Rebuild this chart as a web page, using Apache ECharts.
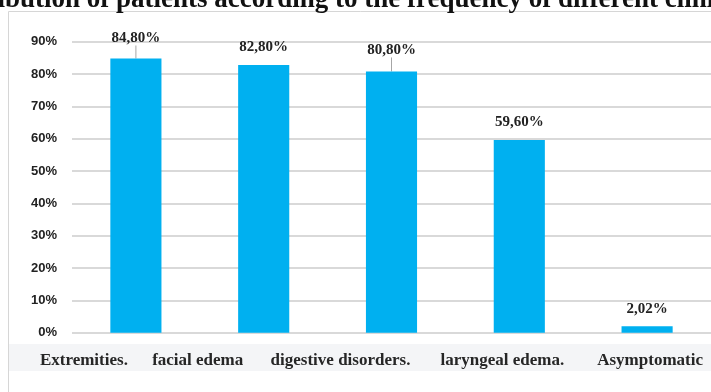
<!DOCTYPE html>
<html>
<head>
<meta charset="utf-8">
<script src="https://cdn.jsdelivr.net/npm/echarts@6/dist/echarts.min.js"></script>
<style>
  html, body { margin: 0; padding: 0; background: #ffffff; }
  #chart { width: 711px; height: 392px; }
</style>
</head>
<body>
<div id="chart"></div>
<script>
// Clinical signs and share of patients presenting each one (%)
const categories = ['Extremities.', 'facial edema', 'digestive disorders.', 'laryngeal edema.', 'Asymptomatic'];
const patientShare = [84.8, 82.8, 80.8, 59.6, 2.02];
const yTicks = { min: 0, max: 90, step: 10 };

// Value labels lifted a little above their bars, joined back by a leader line
const labelLift = [-3, 0, -4, 0, 0];
// Horizontal nudge (px) of each category name under the axis
const categoryNudge = [-52, -66, -51, -17, 3];

const chart = echarts.init(document.getElementById('chart'), null, { renderer: 'canvas' });

const serif = '"Liberation Serif", "Times New Roman", serif';
const sans = '"Liberation Sans", Arial, sans-serif';

const catFont = { fontFamily: serif, fontWeight: 'bold', fontSize: 17, color: '#262626' };
const catRich = {};
categoryNudge.forEach((d, i) => {
  catRich['c' + i] = Object.assign({}, catFont, {
    padding: d < 0 ? [0, -2 * d, 0, 0] : [0, 0, 0, 2 * d]
  });
});

chart.setOption({
  animation: false,
  backgroundColor: '#ffffff',
  title: {
    text: 'Distribution of patients according to the frequency of different clinical signs',
    left: -66,
    top: -18,
    textStyle: { fontFamily: serif, fontWeight: 'bold', fontSize: 27, color: '#111111' }
  },
  graphic: [
    {
      type: 'rect', z: -10, silent: true,
      shape: { x: 8.5, y: 11.5, width: 720, height: 400 },
      style: { fill: '#ffffff', stroke: '#d6d6d6', lineWidth: 1 }
    },
    {
      type: 'rect', z: -9, silent: true,
      shape: { x: 9, y: 344, width: 710, height: 27 },
      style: { fill: '#f4f5f7' }
    }
  ],
  grid: { left: 72, right: -3, top: 41.7, bottom: 59.3, containLabel: false },
  xAxis: {
    type: 'category',
    data: categories,
    axisLine: { show: false },
    axisTick: { show: false },
    axisLabel: Object.assign({
      margin: 19,
      interval: 0,
      formatter: (v, i) => '{c' + i + '|' + v + '}',
      rich: catRich
    }, catFont)
  },
  yAxis: {
    type: 'value',
    min: yTicks.min, max: yTicks.max, interval: yTicks.step,
    axisLine: { show: false },
    axisTick: { show: false },
    splitLine: { lineStyle: { color: '#d9d9d9', width: 2 } },
    axisLabel: {
      formatter: '{value}%',
      margin: 15,
      fontFamily: sans, fontWeight: 'bold', fontSize: 13, color: '#222222'
    }
  },
  series: [{
    type: 'bar',
    data: patientShare.map((v, i) => ({
      value: v,
      labelLine: { show: labelLift[i] !== 0 }
    })),
    barWidth: '40%',
    itemStyle: { color: '#00b0f0' },
    label: {
      show: true,
      position: 'top',
      distance: 10,
      formatter: p => p.value.toFixed(2).replace('.', ',') + '%',
      fontFamily: serif, fontWeight: 'bold', fontSize: 15, color: '#222222'
    },
    labelLine: { show: false, lineStyle: { color: '#a6a6a6', width: 1 } },
    labelLayout: p => ({ dy: labelLift[p.dataIndex] })
  }]
});
</script>
</body>
</html>
